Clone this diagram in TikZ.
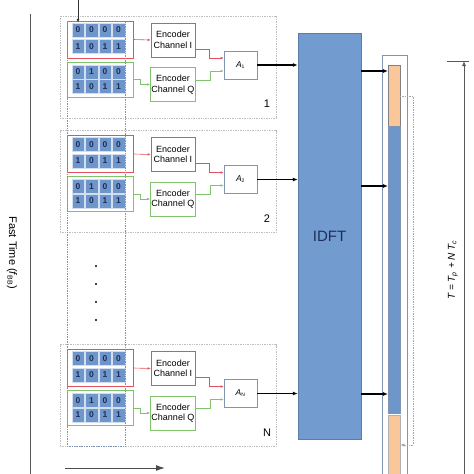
\documentclass[tikz,border=0pt]{standalone}
\usepackage{fontspec}
\setmainfont{Liberation Sans}
\usetikzlibrary{arrows.meta}

\definecolor{cellblue}{HTML}{6E96CB}
\definecolor{idftblue}{HTML}{729BCF}
\definecolor{cporange}{HTML}{F9C79A}
\definecolor{chanI}{HTML}{E3505E}
\definecolor{chanQ}{HTML}{7FC46C}
\definecolor{frameblue}{HTML}{8094B6}
\definecolor{digitblue}{HTML}{1E2E5A}

\tikzset{
	cell/.style={fill=cellblue, draw=white!70!cellblue, minimum width=12.5pt, minimum height=14pt, inner sep=0pt, text=digitblue, font=\bfseries\fontsize{8.5}{8.5}\selectfont},
	bitgroup/.style={draw=#1, line width=0.6pt, minimum width=66pt, inner sep=0pt},
	encbox/.style={draw=#1, line width=0.6pt, fill=white, minimum width=44pt, minimum height=34pt, inner sep=1pt, align=center, font=\fontsize{9}{10.5}\selectfont},
	ampbox/.style={draw=frameblue, line width=0.6pt, fill=white, minimum width=33pt, minimum height=28pt, inner sep=0pt, font=\fontsize{8.5}{8.5}\selectfont},
	thin arrow/.style={line width=0.6pt, -{Latex[length=3pt,width=2.5pt]}},
	bold arrow/.style={line width=1.4pt, -{Latex[length=5pt,width=4pt]}}
}

\begin{document}
\begin{tikzpicture}[x=1pt, y=-1pt]
		\useasboundingbox (0,0) rectangle (474,474);
		% time axes
		\draw[gray!70!black, line width=0.8pt] (30,14) -- (30,474);
		\node[rotate=-90, font=\fontsize{11}{12}\selectfont] (fasttime) at (12,253) {Fast Time (\textit{f}\textsubscript{\scriptsize BB})};
		\coordinate (slow0) at (65,468);
		\coordinate (slow1) at (165,468);
		\draw[gray!60!black, line width=1pt, -{Latex[length=9pt,width=6pt]}] (slow0) -- (slow1);

		% IDFT block
		\node[fill=idftblue, draw=idftblue!80!black, minimum width=63pt, minimum height=406pt, inner sep=0pt, text=digitblue, font=\fontsize{15}{15}\selectfont] (idft) at (329.5,236) {IDFT};

		% one branch per subcarrier
		\foreach \d/\k/\lbl in {0/1/1, 114.5/2/2, 328.5/3/N} {
			\begin{scope}[yshift=-\d pt]
				\draw[gray!50, densely dotted, line width=0.7pt] (60,16) rectangle (276,118);
				\node[bitgroup=chanI, minimum height=37pt] (bitsI\k) at (100,39.5) {};
				\node[bitgroup=chanQ, minimum height=35pt] (bitsQ\k) at (100,79.5) {};
				\foreach \r/\y/\bits in {1/30/{0,0,0,0}, 2/46.5/{1,0,1,1}, 3/72/{0,1,0,0}, 4/86.5/{1,0,1,1}}
					\foreach \b [count=\c] in \bits
						\node[cell] (c\k-\r-\c) at ({64.5+13.5*\c},\y) {\b};
				\node[encbox=chanI] (encI\k) at (173,40) {Encoder\\Channel I};
				\node[encbox=chanQ] (encQ\k) at (173,84.5) {Encoder\\Channel Q};
				\node[ampbox] (amp\k) at (240.5,65) {\textit{A}\textsubscript{\tiny\lbl}};
				\draw[chanI, thin arrow] (bitsI\k.east) -- (encI\k.west);
				\draw[chanI, thin arrow] ([yshift=-9pt]encI\k.east) -- ++(14,0) |- ([yshift=7pt]amp\k.west);
				\draw[chanQ, thin arrow] (bitsQ\k.east) -- ++(7,0) |- (encQ\k.west);
				\draw[chanQ, thin arrow] ([yshift=4.5pt]encQ\k.east) -- ++(14,0) |- ([yshift=-6pt]amp\k.west);
				\draw[bold arrow] (amp\k.east) -- (amp\k.east -| idft.west);
				\node[font=\fontsize{11}{11}\selectfont] (num\k) at (267,104) {\lbl};
			\end{scope}
		}
		\draw[frameblue, densely dotted, line width=0.7pt] (67,21) rectangle (125,446);
		\coordinate (bitsin) at (78,0);
		\draw[gray!40!black, line width=0.8pt, -{Latex[length=4pt,width=3pt]}] (bitsin) -- (c1-1-1.north);
		\foreach \y in {266,284,302,320}
			\fill (96,\y) circle (1.1);

		% output symbol
		\draw[frameblue, line width=0.8pt] (382,55) rectangle (407,480);
		\node[fill=cporange, draw=gray, minimum width=12pt, minimum height=61pt, inner sep=0pt, anchor=north west] (cpTop) at (388,65) {};
		\node[fill=cellblue, draw=frameblue, minimum width=12pt, minimum height=287pt, inner sep=0pt, anchor=north west] (body) at (388,126) {};
		\node[fill=cporange, draw=gray!60, minimum width=12pt, minimum height=65pt, inner sep=0pt, anchor=north west] (cpBot) at (388,415) {};
		\draw[bold arrow] (idft.east |- 0,71) -- (cpTop.west |- 0,71);
		\draw[bold arrow] (idft.east |- 0,186) -- (body.west |- 0,186);
		\draw[bold arrow] (idft.east |- 0,394) -- (body.west |- 0,394);
		\draw[gray!70, densely dotted, line width=0.7pt, -{Latex[length=4pt,width=3.5pt]}] (400,96) -| (413,445) -- (cpBot.east |- 0,445);

		% symbol duration
		\coordinate (Ttop) at (464,61);
		\coordinate (Tbot) at (464,474);
		\draw[gray!70!black, line width=0.8pt] (447,61) -- (469,61);
		\draw[gray!70!black, line width=0.8pt, -{Latex[length=5pt,width=4pt]}] (Tbot) -- (Ttop);
		\node[rotate=90, font=\itshape\fontsize{10}{10}\selectfont] (Tlabel) at (453,270) {T = T\textsubscript{p} + N T\textsubscript{c}};
	\end{tikzpicture}
\end{document}
